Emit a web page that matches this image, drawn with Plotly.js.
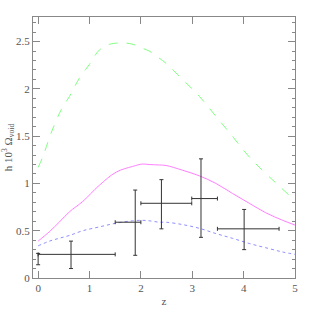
<!DOCTYPE html>
<html><head><meta charset="utf-8">
<script src="https://cdn.plot.ly/plotly-3.0.1.min.js"></script>
<style>html,body{margin:0;padding:0;background:#fff;}#c{width:312px;height:312px;}</style>
</head><body><div id="c"></div>
<script>
// Model curves
const zGreen = [0, 0.09, 0.25, 0.45, 0.61, 0.80, 1.0, 1.19, 1.385, 1.55, 1.7, 1.85, 2.03, 2.16, 2.32, 2.49, 2.81, 3.14, 3.46, 3.78, 4.11, 4.5, 5.0];
const yGreen = [1.17, 1.28, 1.53, 1.78, 1.92, 2.11, 2.26, 2.41, 2.47, 2.485, 2.485, 2.47, 2.43, 2.40, 2.34, 2.27, 2.10, 1.92, 1.71, 1.50, 1.28, 1.07, 0.82];
const zMagenta = [0, 0.22, 0.41, 0.61, 0.87, 1.19, 1.52, 1.84, 2.03, 2.16, 2.36, 2.49, 2.81, 3.14, 3.46, 3.78, 4.11, 4.43, 4.76, 5.0];
const yMagenta = [0.39, 0.49, 0.59, 0.70, 0.81, 0.98, 1.12, 1.18, 1.205, 1.20, 1.195, 1.19, 1.14, 1.08, 1.00, 0.895, 0.79, 0.69, 0.61, 0.56];
const zBlue = [0, 0.22, 0.41, 0.61, 0.87, 1.19, 1.52, 1.84, 2.03, 2.16, 2.36, 2.49, 2.81, 3.14, 3.46, 3.78, 4.11, 4.43, 4.76, 5.0];
const yBlue = [0.34, 0.39, 0.42, 0.45, 0.50, 0.54, 0.58, 0.605, 0.61, 0.605, 0.59, 0.59, 0.565, 0.525, 0.47, 0.42, 0.365, 0.32, 0.275, 0.25];

// Observational points
const zObs = [0.64, 1.89, 2.40, 3.17, 4.01];
const yObs = [0.25, 0.59, 0.79, 0.84, 0.52];
const zLo = [0.0, 1.50, 2.00, 2.99, 3.49];
const zHi = [1.50, 2.00, 2.99, 3.49, 4.69];
const yLo = [0.10, 0.24, 0.52, 0.43, 0.30];
const yHi = [0.39, 0.93, 1.04, 1.26, 0.725];

// Local point at z=0
const zLocal = [0];
const yLocal = [0.20];
const yLocalLo = [0.14];
const yLocalHi = [0.26];

const traces = [
  {x: zGreen, y: yGreen, mode: 'lines', line: {color: '#7fff7f', width: 1, dash: 'dash', shape: 'spline'}, hoverinfo: 'skip'},
  {x: zMagenta, y: yMagenta, mode: 'lines', line: {color: '#ff7fff', width: 1, shape: 'spline'}, hoverinfo: 'skip'},
  {x: zBlue, y: yBlue, mode: 'lines', line: {color: '#8f8fff', width: 1, dash: 'dot', shape: 'spline'}, hoverinfo: 'skip'},
  {x: zObs, y: yObs, mode: 'markers', marker: {size: 1, color: 'rgba(0,0,0,0)'},
   error_x: {type: 'data', symmetric: false, array: zHi.map((h,i)=>h - zObs[i]), arrayminus: zObs.map((c,i)=>c - zLo[i]), color: '#333', thickness: 1, width: 2},
   error_y: {type: 'data', symmetric: false, array: yHi.map((h,i)=>h - yObs[i]), arrayminus: yObs.map((c,i)=>c - yLo[i]), color: '#333', thickness: 1, width: 2}},
  {x: zLocal, y: yLocal, mode: 'markers', marker: {size: 5, color: 'rgba(0,0,0,0)', symbol: 'circle-open', line: {color: '#333', width: 1}},
   error_y: {type: 'data', symmetric: false, array: yLocalHi.map((h,i)=>h - yLocal[i]), arrayminus: yLocal.map((c,i)=>c - yLocalLo[i]), color: '#333', thickness: 1, width: 2}}
];

const axisCommon = {
  showgrid: false, zeroline: false, showline: true, linecolor: '#888', linewidth: 1,
  mirror: 'allticks', ticks: 'inside', ticklen: 7, tickcolor: '#888', tickwidth: 1,
  tickfont: {family: 'Liberation Serif, serif', size: 11, color: '#555'}
};

const layout = {
  width: 312, height: 312,
  margin: {l: 33, r: 17, t: 17, b: 34},
  paper_bgcolor: '#fff', plot_bgcolor: '#fff',
  showlegend: false,
  xaxis: Object.assign({}, axisCommon, {
    range: [-0.1, 5], tickmode: 'linear', tick0: 0, dtick: 1,
    title: {text: 'z', font: {family: 'Liberation Serif, serif', size: 11, color: '#555'}, standoff: 4}
  }),
  yaxis: Object.assign({}, axisCommon, {
    range: [0, 2.76], tickmode: 'linear', tick0: 0, dtick: 0.5,
    minor: {tick0: 0, dtick: 0.1, ticks: 'inside', ticklen: 3, tickcolor: '#888', tickwidth: 1},
    title: {text: 'h 10<sup>3</sup> Ω<sub>void</sub>', font: {family: 'Liberation Serif, serif', size: 11, color: '#555'}, standoff: 4}
  })
};

Plotly.newPlot('c', traces, layout, {displayModeBar: false});
</script>
</body></html>
